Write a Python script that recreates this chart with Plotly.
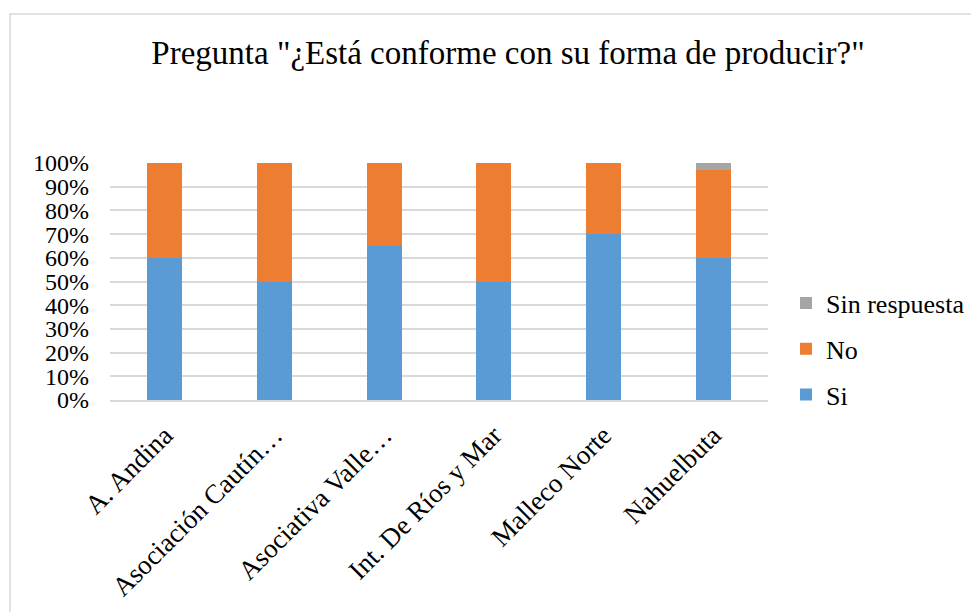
import plotly.graph_objects as go

categories = ['A. Andina', 'Asociación Cautín…', 'Asociativa Valle…',
              'Int. De Ríos y Mar', 'Malleco Norte', 'Nahuelbuta']
si = [0.60, 0.50, 0.65, 0.50, 0.70, 0.60]
no = [0.40, 0.50, 0.35, 0.50, 0.30, 0.37]
sin_respuesta = [0, 0, 0, 0, 0, 0.03]
y_ticks = [i / 10 for i in range(11)]

font_family = 'Liberation Serif, Times New Roman, serif'
colors = {'Si': '#5B9BD5', 'No': '#ED7D31', 'Sin respuesta': '#A5A5A5'}

# page body has an 8px margin, so the figure is 8px smaller and shifted
OFF = 8
W, H = 979 - OFF, 612 - OFF
L, R, T, B = 110 - OFF, 211, 163 - OFF, 212
pw, ph = W - L - R, H - T - B

fig = go.Figure()
series = [('Si', si, 3), ('No', no, 2), ('Sin respuesta', sin_respuesta, 1)]
for name, vals, rank in series:
    fig.add_trace(go.Bar(x=categories, y=vals, name=name, legendgroup=name,
                         legendrank=rank,
                         marker=dict(color=colors[name], line=dict(width=0)),
                         width=0.32))

fig.update_layout(
    width=W, height=H,
    barmode='stack',
    paper_bgcolor='white', plot_bgcolor='white',
    margin=dict(l=L, r=R, t=T, b=B, autoexpand=False),
    font=dict(family=font_family, color='#000000', size=24),
    title=dict(text='Pregunta "¿Está conforme con su forma de producir?"',
               x=(508 - OFF) / W, xanchor='center', y=1 - (52 - OFF) / H,
               yanchor='middle', yref='container',
               font=dict(size=33, family=font_family)),
    legend=dict(x=(786 - OFF - L) / pw, xanchor='left',
                y=(400 - 349) / ph, yanchor='middle',
                traceorder='grouped', tracegroupgap=9,
                bgcolor='rgba(0,0,0,0)',
                font=dict(size=26, family=font_family),
                itemwidth=30),
    showlegend=True,
)
fig.update_yaxes(range=[0, 1], tickvals=y_ticks, tickformat='.0%',
                 showgrid=True, gridcolor='#D9D9D9', gridwidth=1.5,
                 zeroline=False, showline=False, ticks='',
                 ticklabelstandoff=20,
                 tickfont=dict(size=24, family=font_family))
fig.update_xaxes(tickangle=-45, showgrid=False, showline=True,
                 linecolor='#D9D9D9', linewidth=1.5, ticks='',
                 ticklabelstandoff=7,
                 tickfont=dict(size=27, family=font_family))

# outer chart frame (page coords: left 10, top 14, right 978)
fig.add_shape(type='rect', xref='paper', yref='paper',
              x0=(10 - OFF - L) / pw, x1=(978 - OFF - L) / pw,
              y0=(T + ph - (H + 10)) / ph, y1=(T + ph - (14 - OFF)) / ph,
              line=dict(color='#D9D9D9', width=1.5), layer='below')

fig.write_html('out.html')
